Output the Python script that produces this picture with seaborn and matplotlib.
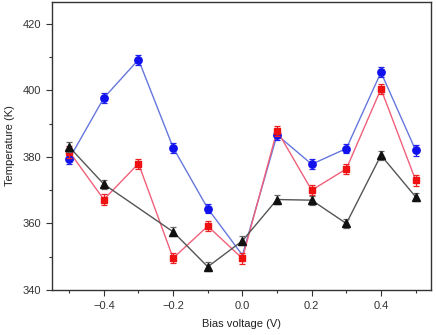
import numpy as np
import pandas as pd
import matplotlib
matplotlib.use("Agg")
import matplotlib.pyplot as plt
import seaborn as sns
from matplotlib.ticker import MultipleLocator, FuncFormatter

voltage = [-0.5, -0.4, -0.3, -0.2, -0.1, 0.0, 0.1, 0.2, 0.3, 0.4, 0.5]
blue_T = [379.4, 397.7, 409.2, 382.8, 364.5, 350.5, 386.6, 377.8, 382.5, 405.4, 382.0]
blue_err = [1.6, 1.5, 1.5, 1.5, 1.4, 0.0, 1.5, 1.5, 1.4, 1.5, 1.6]
red_T = [381.6, 367.2, 378.0, 349.6, 359.2, 349.5, 387.9, 370.0, 376.4, 400.4, 373.0]
red_err = [1.8, 1.6, 1.5, 1.5, 1.5, 1.6, 1.5, 1.5, 1.5, 1.5, 1.6]
black_T = [383.0, 371.8, np.nan, 357.5, 347.0, 354.8, 367.2, 367.0, 360.0, 380.5, 368.0]
black_err = [1.5, 1.4, np.nan, 1.4, 1.3, 1.3, 1.3, 1.3, 1.3, 1.3, 1.3]

sns.set_style("ticks")
plt.rcParams['font.family'] = ['Liberation Sans', 'DejaVu Sans']

fig = plt.figure(figsize=(4.36, 3.35), dpi=100)
ax = fig.add_axes([0.119, 0.134, 0.870, 0.860])

series = [
    (blue_T, blue_err, "o", "#1111ee", "#6677dd", "#2222ee", 5.3),
    (red_T, red_err, "s", "#ee1111", "#f0607a", "#ee2222", 5.0),
    (black_T, black_err, "^", "#111111", "#555555", "#666666", 5.5),
]
for i, (T, err, mk, mcol, lcol, ecol, ms) in enumerate(series):
    df = pd.DataFrame({"V": voltage, "T": T, "e": err}).dropna()
    z = 2 + i * 0.1
    sns.lineplot(data=df, x="V", y="T", ax=ax, color=lcol, lw=1.0,
                 marker=None, zorder=z, legend=False)
    dfe = df[df["e"] > 0]
    ax.errorbar(dfe["V"], dfe["T"], yerr=dfe["e"], fmt="none", ecolor=ecol,
                elinewidth=0.9, capsize=2.5, capthick=0.9, zorder=3 + i)
    ax.plot(dfe["V"], dfe["T"], linestyle="none", marker=mk, ms=ms,
            color=mcol, mec=mcol, zorder=3.5 + i)

ax.set_xlim(-0.55, 0.545)
ax.set_ylim(340, 426.5)
ax.xaxis.set_major_locator(MultipleLocator(0.2))
ax.xaxis.set_minor_locator(MultipleLocator(0.1))
ax.yaxis.set_major_locator(MultipleLocator(20))
ax.yaxis.set_minor_locator(MultipleLocator(10))
ax.xaxis.set_major_formatter(FuncFormatter(
    lambda v, p: ("\u2212" if v < -1e-9 else "") + f"{abs(v):.1f}"))
ax.tick_params(which="major", length=4, width=0.8, labelsize=8, colors="#333333")
ax.tick_params(which="minor", length=2.5, width=0.8, colors="#333333")
for s in ax.spines.values():
    s.set_visible(True)
    s.set_color("#333333")
    s.set_linewidth(1.0)
ax.set_xlabel("Bias voltage (V)", fontsize=8, color="#222222", labelpad=6)
ax.set_ylabel("Temperature (K)", fontsize=8, color="#222222", labelpad=6)

fig.savefig("out.png", dpi=100)
